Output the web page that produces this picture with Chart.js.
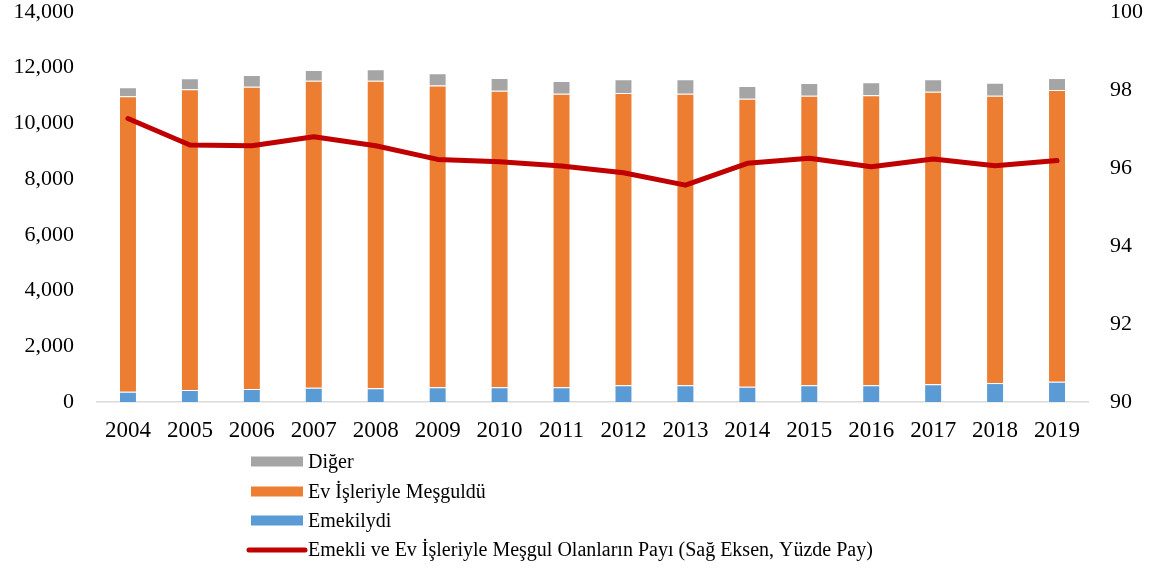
<!DOCTYPE html>
<html>
<head>
<meta charset="utf-8">
<script src="https://cdn.jsdelivr.net/npm/chart.js@4/dist/chart.umd.min.js"></script>
<style>
  html, body { margin: 0; padding: 0; background: #ffffff; }
  #wrap { width: 1151px; height: 570px; position: relative; }
</style>
</head>
<body>
<div id="wrap"><canvas id="c" width="1151" height="570"></canvas></div>
<script>
const years = ['2004','2005','2006','2007','2008','2009','2010','2011','2012','2013','2014','2015','2016','2017','2018','2019'];
const emekliydi = [370, 430, 470, 515, 490, 527, 527, 530, 600, 600, 550, 600, 600, 635, 680, 730];
const evIsleri  = [10610, 10794, 10850, 11018, 11043, 10839, 10647, 10536, 10491, 10466, 10337, 10395, 10408, 10503, 10315, 10469];
const diger     = [320, 395, 420, 385, 408, 431, 455, 456, 491, 516, 455, 455, 467, 444, 466, 430];
const payi      = [97.27, 96.59, 96.57, 96.80, 96.57, 96.22, 96.16, 96.05, 95.88, 95.56, 96.12, 96.25, 96.03, 96.23, 96.06, 96.19];
const leftTicks = [0, 2000, 4000, 6000, 8000, 10000, 12000, 14000];
const rightTicks = [90, 92, 94, 96, 98, 100];

const FONT = "'Liberation Serif', 'Times New Roman', serif";

const legendPlugin = {
  id: 'vlegend',
  afterDraw(chart) {
    const ctx = chart.ctx;
    const ds = chart.data.datasets;
    const order = [2, 1, 0, 3];
    const x0 = 251, boxW = 52, boxH = 10, textX = 308;
    const ys = [461.5, 491.5, 520.5, 550];
    ctx.save();
    ctx.font = '20px ' + FONT;
    ctx.textBaseline = 'middle';
    ctx.textAlign = 'left';
    order.forEach((idx, i) => {
      const d = ds[idx];
      const y = ys[i];
      if (d.type === 'line') {
        ctx.strokeStyle = d.borderColor;
        ctx.lineWidth = 5;
        ctx.lineCap = 'round';
        ctx.beginPath();
        ctx.moveTo(x0 - 2, y);
        ctx.lineTo(x0 + boxW + 2, y);
        ctx.stroke();
      } else {
        ctx.fillStyle = d.backgroundColor;
        ctx.fillRect(x0, y - boxH / 2, boxW, boxH);
      }
      ctx.fillStyle = '#000000';
      ctx.fillText(d.label, textX, y + 1);
    });
    ctx.restore();
  }
};

function fixV(w) {
  return function (scale) {
    scale.width = w;
    scale.paddingTop = 0;
    scale.paddingBottom = 0;
  };
}

new Chart(document.getElementById('c'), {
  data: {
    labels: years,
    datasets: [
      { type: 'bar', label: 'Emekilydi', data: emekliydi, backgroundColor: '#5B9BD5', borderColor: 'rgba(255,255,255,0.35)', borderWidth: 1, yAxisID: 'y', stack: 's', order: 1, barPercentage: 0.29, categoryPercentage: 1 },
      { type: 'bar', label: 'Ev İşleriyle Meşguldü', data: evIsleri, backgroundColor: '#ED7D31', borderColor: 'rgba(255,255,255,0.35)', borderWidth: 1, yAxisID: 'y', stack: 's', order: 1, barPercentage: 0.29, categoryPercentage: 1 },
      { type: 'bar', label: 'Diğer', data: diger, backgroundColor: '#A5A5A5', borderColor: 'rgba(255,255,255,0.35)', borderWidth: 1, yAxisID: 'y', stack: 's', order: 1, barPercentage: 0.29, categoryPercentage: 1 },
      { type: 'line', label: 'Emekli ve Ev İşleriyle Meşgul Olanların Payı (Sağ Eksen, Yüzde Pay)', data: payi, borderColor: '#C00000', backgroundColor: '#C00000', borderWidth: 5, pointRadius: 0, tension: 0, yAxisID: 'y1', order: 0, borderCapStyle: 'round', borderJoinStyle: 'round' }
    ]
  },
  options: {
    responsive: false,
    animation: false,
    devicePixelRatio: 1,
    layout: { padding: { top: 12, left: 0, right: 0, bottom: 0 } },
    plugins: { legend: { display: false }, tooltip: { enabled: false } },
    scales: {
      x: {
        stacked: true,
        grid: { display: false, drawTicks: false },
        border: { display: true, color: '#D9D9D9', width: 1.5 },
        ticks: { color: '#000', font: { family: FONT, size: 23 }, padding: 15, maxRotation: 0, autoSkip: false },
        afterFit(scale) { scale.height = 168; scale.paddingLeft = 0; scale.paddingRight = 0; }
      },
      y: {
        position: 'left',
        stacked: true,
        min: 0, max: 14000,
        grid: { display: false, drawTicks: false },
        border: { display: false },
        afterBuildTicks(scale) { scale.ticks = leftTicks.map(v => ({ value: v })); },
        ticks: { color: '#000', font: { family: FONT, size: 22 }, padding: 23,
          callback: v => v.toLocaleString('en-US') },
        afterFit: fixV(97)
      },
      y1: {
        position: 'right',
        min: 90, max: 100,
        grid: { display: false, drawTicks: false },
        border: { display: false },
        afterBuildTicks(scale) { scale.ticks = rightTicks.map(v => ({ value: v })); },
        ticks: { color: '#000', font: { family: FONT, size: 22 }, padding: 22 },
        afterFit: fixV(63)
      }
    }
  },
  plugins: [legendPlugin]
});
</script>
</body>
</html>
